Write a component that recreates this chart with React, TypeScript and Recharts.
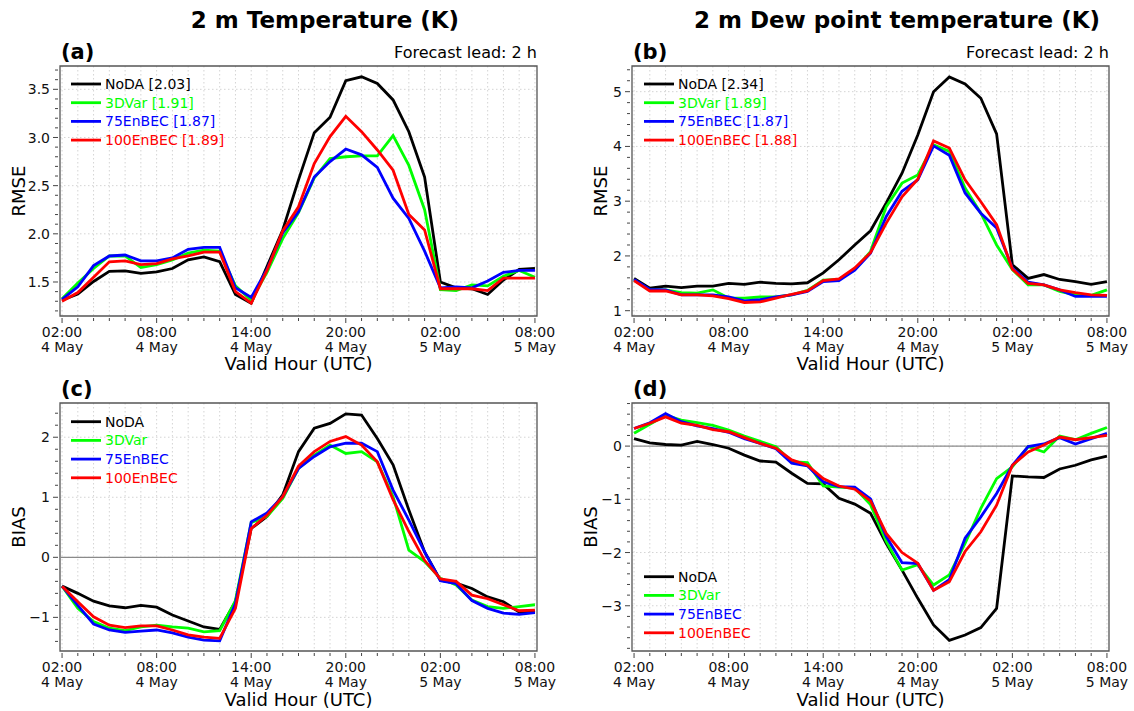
import React from "react";
import {
  LineChart,
  Line,
  XAxis,
  YAxis,
  CartesianGrid,
  ReferenceLine,
  ReferenceArea,
} from "recharts";

// hours after 02:00 UTC 4 May
const hours = [0, 1, 2, 3, 4, 5, 6, 7, 8, 9, 10, 11, 12, 13, 14, 15, 16, 17, 18, 19, 20, 21, 22, 23, 24, 25, 26, 27, 28, 29, 30];
const xTickHours = [0, 6, 12, 18, 24, 30];
const xTickTimes = ["02:00", "08:00", "14:00", "20:00", "02:00", "08:00"];
const xTickDays = ["4 May", "4 May", "4 May", "4 May", "5 May", "5 May"];

const seriesKeys = ["noda", "var3d", "en75", "en100"];
const seriesNames = ["NoDA", "3DVar", "75EnBEC", "100EnBEC"];
const seriesColors = ["#000000", "#00ff00", "#0000ff", "#ff0000"];

// (a) RMSE, 2 m temperature
const rmseT_noda = [1.31, 1.375, 1.505, 1.61, 1.615, 1.59, 1.605, 1.64, 1.73, 1.76, 1.71, 1.37, 1.28, 1.66, 2.04, 2.56, 3.05, 3.21, 3.59, 3.63, 3.56, 3.39, 3.06, 2.59, 1.5, 1.44, 1.43, 1.37, 1.52, 1.63, 1.64];
const rmseT_3dvar = [1.325, 1.49, 1.64, 1.77, 1.77, 1.65, 1.68, 1.73, 1.8, 1.83, 1.82, 1.46, 1.31, 1.6, 1.95, 2.22, 2.58, 2.78, 2.8, 2.81, 2.81, 3.02, 2.71, 2.25, 1.42, 1.41, 1.47, 1.46, 1.56, 1.62, 1.55];
const rmseT_75 = [1.32, 1.45, 1.67, 1.77, 1.78, 1.72, 1.72, 1.75, 1.84, 1.86, 1.86, 1.44, 1.34, 1.63, 2.01, 2.23, 2.59, 2.75, 2.88, 2.82, 2.69, 2.37, 2.16, 1.82, 1.44, 1.45, 1.44, 1.51, 1.6, 1.62, 1.62];
const rmseT_100 = [1.3, 1.39, 1.55, 1.71, 1.72, 1.68, 1.69, 1.74, 1.77, 1.81, 1.81, 1.4, 1.28, 1.62, 2.03, 2.28, 2.73, 3.01, 3.22, 3.06, 2.87, 2.66, 2.2, 2.04, 1.43, 1.43, 1.43, 1.41, 1.54, 1.54, 1.54];
const rmseTScores = ["2.03", "1.91", "1.87", "1.89"];

// (b) RMSE, 2 m dew point
const rmseTd_noda = [1.59, 1.41, 1.45, 1.42, 1.45, 1.45, 1.5, 1.48, 1.52, 1.5, 1.49, 1.51, 1.69, 1.93, 2.2, 2.46, 2.97, 3.51, 4.21, 5.0, 5.27, 5.14, 4.88, 4.23, 1.84, 1.59, 1.66, 1.57, 1.53, 1.48, 1.53];
const rmseTd_3dvar = [1.56, 1.38, 1.38, 1.33, 1.32, 1.38, 1.23, 1.23, 1.25, 1.25, 1.29, 1.37, 1.56, 1.57, 1.75, 2.08, 2.9, 3.33, 3.48, 4.03, 3.91, 3.24, 2.78, 2.2, 1.75, 1.47, 1.47, 1.35, 1.29, 1.28, 1.38];
const rmseTd_75 = [1.57, 1.39, 1.38, 1.29, 1.29, 1.29, 1.25, 1.18, 1.2, 1.25, 1.29, 1.35, 1.53, 1.55, 1.74, 2.05, 2.72, 3.18, 3.39, 4.01, 3.84, 3.15, 2.78, 2.51, 1.78, 1.52, 1.47, 1.38, 1.26, 1.26, 1.26];
const rmseTd_100 = [1.55, 1.36, 1.36, 1.29, 1.29, 1.27, 1.22, 1.15, 1.16, 1.23, 1.3, 1.36, 1.55, 1.58, 1.78, 2.06, 2.6, 3.08, 3.4, 4.1, 3.97, 3.39, 2.99, 2.57, 1.76, 1.5, 1.47, 1.38, 1.33, 1.29, 1.28];
const rmseTdScores = ["2.34", "1.89", "1.87", "1.88"];

// (c) BIAS, 2 m temperature
const biasT_noda = [-0.48, -0.6, -0.73, -0.81, -0.84, -0.8, -0.83, -0.96, -1.06, -1.16, -1.2, -0.74, 0.48, 0.68, 1.04, 1.76, 2.15, 2.23, 2.39, 2.37, 1.98, 1.54, 0.79, 0.09, -0.38, -0.43, -0.52, -0.66, -0.74, -0.91, -0.9];
const biasT_3dvar = [-0.48, -0.85, -1.07, -1.18, -1.22, -1.16, -1.13, -1.16, -1.18, -1.24, -1.22, -0.72, 0.58, 0.68, 0.98, 1.48, 1.7, 1.87, 1.73, 1.76, 1.59, 1.01, 0.12, -0.07, -0.35, -0.46, -0.71, -0.82, -0.85, -0.82, -0.79];
const biasT_75 = [-0.48, -0.8, -1.11, -1.21, -1.25, -1.23, -1.21, -1.26, -1.33, -1.38, -1.39, -0.77, 0.59, 0.74, 1.01, 1.48, 1.68, 1.84, 1.9, 1.9, 1.76, 1.12, 0.62, 0.09, -0.39, -0.44, -0.72, -0.85, -0.93, -0.95, -0.92];
const biasT_100 = [-0.48, -0.74, -0.99, -1.13, -1.17, -1.14, -1.14, -1.21, -1.29, -1.33, -1.35, -0.85, 0.48, 0.7, 1.01, 1.52, 1.76, 1.93, 2.01, 1.87, 1.59, 0.96, 0.43, -0.05, -0.36, -0.4, -0.63, -0.69, -0.79, -0.89, -0.88];

// (d) BIAS, 2 m dew point
const biasTd_noda = [0.14, 0.06, 0.03, 0.02, 0.09, 0.03, -0.04, -0.17, -0.28, -0.3, -0.51, -0.7, -0.71, -0.98, -1.09, -1.26, -1.83, -2.33, -2.86, -3.36, -3.65, -3.55, -3.41, -3.05, -0.56, -0.58, -0.59, -0.43, -0.36, -0.26, -0.19];
const biasTd_3dvar = [0.24, 0.41, 0.58, 0.49, 0.44, 0.39, 0.3, 0.19, 0.09, -0.01, -0.29, -0.31, -0.75, -0.77, -0.79, -1.1, -1.79, -2.33, -2.23, -2.61, -2.42, -1.83, -1.17, -0.61, -0.39, -0.01, -0.11, 0.19, 0.12, 0.24, 0.35];
const biasTd_75 = [0.33, 0.44, 0.61, 0.46, 0.38, 0.33, 0.26, 0.14, 0.05, -0.05, -0.32, -0.37, -0.67, -0.76, -0.77, -0.99, -1.7, -2.19, -2.21, -2.71, -2.51, -1.73, -1.33, -0.89, -0.36, -0.01, 0.04, 0.16, 0.04, 0.14, 0.24];
const biasTd_100 = [0.33, 0.43, 0.55, 0.43, 0.39, 0.31, 0.27, 0.16, 0.05, -0.04, -0.26, -0.36, -0.61, -0.75, -0.81, -1.03, -1.64, -2.0, -2.2, -2.71, -2.55, -1.98, -1.61, -1.11, -0.36, -0.11, 0.02, 0.17, 0.12, 0.16, 0.2];

// y ticks
const rmseTTicks = [1.5, 2.0, 2.5, 3.0, 3.5];
const rmseTTickLabels = ["1.5", "2.0", "2.5", "3.0", "3.5"];
const rmseTdTicks = [1, 2, 3, 4, 5];
const rmseTdTickLabels = ["1", "2", "3", "4", "5"];
const biasTTicks = [-1, 0, 1, 2];
const biasTTickLabels = ["\u22121", "0", "1", "2"];
const biasTdTicks = [-3, -2, -1, 0];
const biasTdTickLabels = ["\u22123", "\u22122", "\u22121", "0"];

const FONT = "'DejaVu Sans', sans-serif";
const X_DOMAIN: [number, number] = [-0.13, 30.13];

function rows(a: number[], b: number[], c: number[], d: number[]) {
  return hours.map((h, i) => ({ h, noda: a[i], var3d: b[i], en75: c[i], en100: d[i] }));
}

function minorTicks(lo: number, hi: number, step: number) {
  const out: number[] = [];
  for (let v = Math.ceil(lo / step - 1e-9) * step; v <= hi + 1e-9; v += step) {
    out.push(Math.round(v * 100) / 100);
  }
  return out;
}

function XTick(props: any) {
  const { x, y, payload } = props;
  const k = xTickHours.indexOf(payload.value);
  const major = k >= 0;
  return (
    <g>
      <line x1={x} x2={x} y1={y} y2={y + (major ? 5 : 3)} stroke="#444" strokeWidth={1} />
      {major && (
        <text x={x} y={y + 18.5} textAnchor="middle" fontSize={14} fontFamily={FONT} fill="#111">
          {xTickTimes[k]}
        </text>
      )}
      {major && (
        <text x={x} y={y + 33.5} textAnchor="middle" fontSize={14} fontFamily={FONT} fill="#111">
          {xTickDays[k]}
        </text>
      )}
    </g>
  );
}

function makeYTick(majors: number[], labels: string[]) {
  return (props: any) => {
    const { x, y, payload } = props;
    const k = majors.findIndex((m) => Math.abs(m - payload.value) < 1e-6);
    const major = k >= 0;
    return (
      <g>
        <line x1={x - (major ? 5 : 3)} x2={x} y1={y} y2={y} stroke="#444" strokeWidth={1} />
        {major && (
          <text x={x - 8} y={y} dy="0.36em" textAnchor="end" fontSize={14} fontFamily={FONT} fill="#111">
            {labels[k]}
          </text>
        )}
      </g>
    );
  };
}

interface PanelProps {
  data: any[];
  left: number;
  top: number;
  w: number;
  h: number;
  domain: [number, number];
  step: number;
  majors: number[];
  labels: string[];
  zeroLine?: boolean;
}

function Panel({ data, left, top, w, h, domain, step, majors, labels, zeroLine }: PanelProps) {
  return (
    <div style={{ position: "absolute", left: left - 60, top: top - 10 }}>
      <LineChart
        width={w + 90}
        height={h + 80}
        data={data}
        margin={{ top: 10, right: 30, left: 0, bottom: 0 }}
      >
        <CartesianGrid
          stroke="#d4d4d4"
          strokeDasharray="1.5 2.5"
          horizontalValues={majors}
          verticalValues={hours}
        />
        <XAxis
          type="number"
          dataKey="h"
          domain={X_DOMAIN}
          allowDataOverflow
          ticks={hours}
          interval={0}
          tickSize={0}
          tickLine={false}
          axisLine={false}
          tick={XTick}
          height={70}
        />
        <YAxis
          type="number"
          domain={domain}
          allowDataOverflow
          ticks={minorTicks(domain[0], domain[1], step)}
          interval={0}
          tickSize={0}
          tickLine={false}
          axisLine={false}
          tick={makeYTick(majors, labels)}
          width={60}
        />
        {zeroLine && <ReferenceLine y={0} stroke="#8a8a8a" strokeWidth={1.2} />}
        {seriesKeys.map((k, i) => (
          <Line
            key={k}
            type="linear"
            dataKey={k}
            stroke={seriesColors[i]}
            strokeWidth={2.8}
            dot={false}
            isAnimationActive={false}
          />
        ))}
        <ReferenceArea
          x1={X_DOMAIN[0]}
          x2={X_DOMAIN[1]}
          y1={domain[0]}
          y2={domain[1]}
          fill="none"
          stroke="#555"
          strokeWidth={1.3}
        />
      </LineChart>
    </div>
  );
}

function Legend({ x, y, scores }: { x: number; y: number; scores?: string[] }) {
  return (
    <g>
      {seriesNames.map((n, i) => (
        <g key={n}>
          <line x1={x} x2={x + 30} y1={y + i * 18.7} y2={y + i * 18.7} stroke={seriesColors[i]} strokeWidth={2.8} />
          <text x={x + 34} y={y + i * 18.7 + 5} fontSize={14} fontFamily={FONT} fill={seriesColors[i]}>
            {scores ? `${n} [${scores[i]}]` : n}
          </text>
        </g>
      ))}
    </g>
  );
}

const L = 60;
const R = 632;
const W = 477;

export default function App() {
  const dA = rows(rmseT_noda, rmseT_3dvar, rmseT_75, rmseT_100);
  const dB = rows(rmseTd_noda, rmseTd_3dvar, rmseTd_75, rmseTd_100);
  const dC = rows(biasT_noda, biasT_3dvar, biasT_75, biasT_100);
  const dD = rows(biasTd_noda, biasTd_3dvar, biasTd_75, biasTd_100);

  return (
    <div style={{ position: "absolute", left: 0, top: 0, width: 1134, height: 711, background: "#fff", fontFamily: FONT, overflow: "hidden" }}>
      <Panel data={dA} left={L} top={66} w={W} h={250} domain={[1.147, 3.742]} step={0.1} majors={rmseTTicks} labels={rmseTTickLabels} />
      <Panel data={dB} left={R} top={66} w={W} h={250} domain={[0.903, 5.469]} step={0.2} majors={rmseTdTicks} labels={rmseTdTickLabels} />
      <Panel data={dC} left={L} top={403} w={W} h={248} domain={[-1.56, 2.57]} step={0.2} majors={biasTTicks} labels={biasTTickLabels} zeroLine />
      <Panel data={dD} left={R} top={403} w={W} h={248} domain={[-3.85, 0.81]} step={0.2} majors={biasTdTicks} labels={biasTdTickLabels} zeroLine />

      <svg width={1134} height={711} style={{ position: "absolute", left: 0, top: 0, pointerEvents: "none" }}>
        <g fontFamily={FONT} fill="#000">
          <text x={325} y={28} textAnchor="middle" fontSize={23} fontWeight="bold">2 m Temperature (K)</text>
          <text x={897} y={28} textAnchor="middle" fontSize={23} fontWeight="bold">2 m Dew point temperature (K)</text>

          <text x={L + 1} y={58.5} fontSize={21} fontWeight="bold">(a)</text>
          <text x={R + 1} y={58.5} fontSize={21} fontWeight="bold">(b)</text>
          <text x={L + 1} y={395.5} fontSize={21} fontWeight="bold">(c)</text>
          <text x={R + 1} y={395.5} fontSize={21} fontWeight="bold">(d)</text>

          <text x={L + W} y={58} textAnchor="end" fontSize={16}>Forecast lead: 2 h</text>
          <text x={R + W} y={58} textAnchor="end" fontSize={16}>Forecast lead: 2 h</text>

          <text transform="translate(25,191) rotate(-90)" textAnchor="middle" fontSize={18}>RMSE</text>
          <text transform="translate(607,191) rotate(-90)" textAnchor="middle" fontSize={18}>RMSE</text>
          <text transform="translate(25,527) rotate(-90)" textAnchor="middle" fontSize={18}>BIAS</text>
          <text transform="translate(597,527) rotate(-90)" textAnchor="middle" fontSize={18}>BIAS</text>

          <text x={L + W / 2} y={370} textAnchor="middle" fontSize={18}>Valid Hour (UTC)</text>
          <text x={R + W / 2} y={370} textAnchor="middle" fontSize={18}>Valid Hour (UTC)</text>
          <text x={L + W / 2} y={706} textAnchor="middle" fontSize={18}>Valid Hour (UTC)</text>
          <text x={R + W / 2} y={706} textAnchor="middle" fontSize={18}>Valid Hour (UTC)</text>
        </g>
        <Legend x={L + 11} y={84} scores={rmseTScores} />
        <Legend x={R + 12} y={84} scores={rmseTdScores} />
        <Legend x={L + 11} y={421.7} />
        <Legend x={R + 12} y={576.7} />
      </svg>
    </div>
  );
}
